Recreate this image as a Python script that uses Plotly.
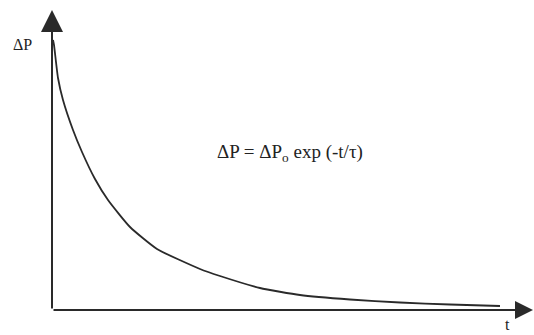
import plotly.graph_objects as go

# Decay curve samples: time (t) and pressure excess (ΔP), arbitrary units
t_values = [1, 2, 6, 11, 21, 30, 43, 56, 78, 105, 148, 168, 208, 248, 298, 348, 398, 448]
dp_values = [270, 265, 232, 210, 180, 158, 131, 110, 83, 61, 41, 34, 22, 15, 10.5, 7.5, 5.5, 4]

x_max = 482
y_max = 300
serif = "Times New Roman, Liberation Serif, serif"
ink = "#2a2a2a"

fig = go.Figure()
fig.add_trace(go.Scatter(
    x=t_values, y=dp_values, mode="lines",
    line=dict(color=ink, width=1.8, shape="spline", smoothing=0.5),
    hoverinfo="skip", showlegend=False,
))

# Axes drawn as arrows from the origin
fig.add_annotation(x=0, y=y_max, ax=0, ay=0, xref="x", yref="y", axref="x", ayref="y",
                   showarrow=True, arrowhead=2, arrowsize=2.2, arrowwidth=2,
                   arrowcolor=ink, text="")
fig.add_annotation(x=x_max - 1, y=0, ax=0, ay=0, xref="x", yref="y", axref="x", ayref="y",
                   showarrow=True, arrowhead=2, arrowsize=1.8, arrowwidth=2,
                   arrowcolor=ink, text="")

# Axis labels and formula
fig.add_annotation(x=-0.062, y=0.885, xref="paper", yref="paper", text="ΔP", showarrow=False,
                   xanchor="center", yanchor="middle",
                   font=dict(family=serif, size=16, color="#222"))
fig.add_annotation(x=0.946, y=-0.083, xref="paper", yref="paper", text="t", showarrow=False,
                   xanchor="center", yanchor="bottom",
                   font=dict(family=serif, size=16, color="#222"))
fig.add_annotation(x=238, y=157, xref="x", yref="y",
                   text="ΔP = ΔP<sub>o</sub> exp (-t/τ)", showarrow=False,
                   xanchor="center", yanchor="middle",
                   font=dict(family=serif, size=19, color="#222"))

fig.update_xaxes(range=[0, x_max], visible=False)
fig.update_yaxes(range=[0, y_max], visible=False)
fig.update_layout(
    width=534, height=335,
    margin=dict(l=52, r=0, t=10, b=25),
    paper_bgcolor="white", plot_bgcolor="white",
)

fig.write_html("out.html")
